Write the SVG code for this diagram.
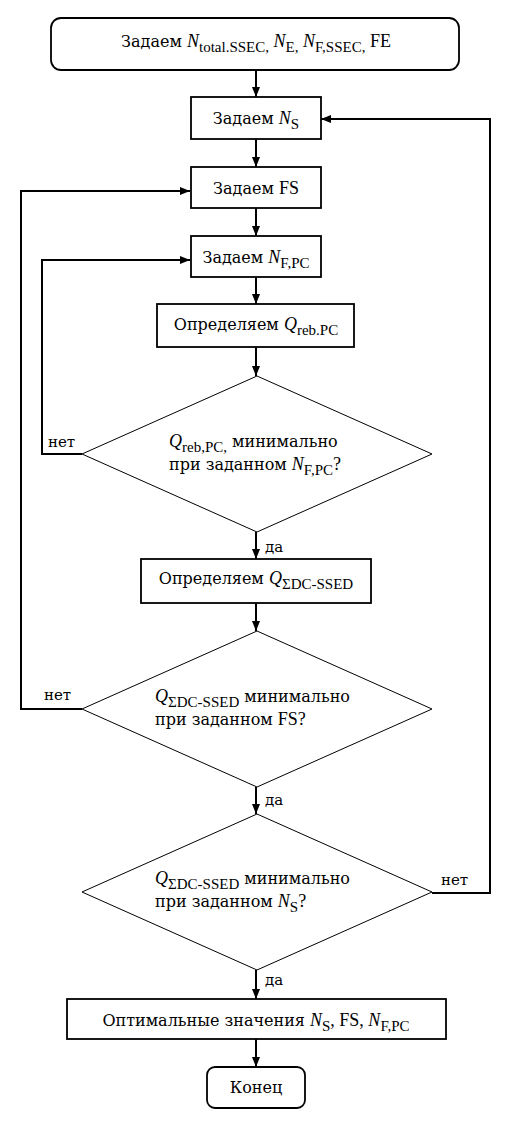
<svg xmlns="http://www.w3.org/2000/svg" width="522" height="1125" viewBox="0 0 522 1125">
<style>
text{font-family:"Liberation Serif","Times New Roman",serif;font-size:18px;fill:#000}
.c{font-family:"DejaVu Serif",serif;font-size:16px}
.lbl{font-family:"DejaVu Serif",serif;font-size:15px}
.box{fill:#fff;stroke:#000;stroke-width:1.8}
.dia{fill:#fff;stroke:#000;stroke-width:1}
.con{fill:none;stroke:#000;stroke-width:2}
.i{font-style:italic}
.s{font-size:15px}
</style>
<defs>
<marker id="ah" viewBox="0 0 10 8" refX="10" refY="4" markerWidth="10" markerHeight="8" markerUnits="userSpaceOnUse" orient="auto">
<path d="M0,0 L10,4 L0,8 Z" fill="#000"/>
</marker>
</defs>
<g id="connectors">
<line class="con" x1="256" y1="70" x2="256" y2="97" marker-end="url(#ah)"/>
<line class="con" x1="256" y1="139" x2="256" y2="167" marker-end="url(#ah)"/>
<line class="con" x1="256" y1="208" x2="256" y2="236" marker-end="url(#ah)"/>
<line class="con" x1="256" y1="277" x2="256" y2="304" marker-end="url(#ah)"/>
<line class="con" x1="256" y1="347" x2="256" y2="376" marker-end="url(#ah)"/>
<line class="con" x1="256" y1="532" x2="256" y2="559" marker-end="url(#ah)"/>
<line class="con" x1="256" y1="603" x2="256" y2="631" marker-end="url(#ah)"/>
<line class="con" x1="256" y1="787" x2="256" y2="814" marker-end="url(#ah)"/>
<line class="con" x1="256" y1="970" x2="256" y2="999" marker-end="url(#ah)"/>
<line class="con" x1="256" y1="1039" x2="256" y2="1067" marker-end="url(#ah)"/>
<polyline class="con" points="82,454 42,454 42,260 190,260" marker-end="url(#ah)"/>
<polyline class="con" points="82,709 21,709 21,191 190,191" marker-end="url(#ah)"/>
<polyline class="con" points="432,893 490,893 490,119 321,119" marker-end="url(#ah)"/>
<text class="lbl" x="265" y="552">да</text>
<text class="lbl" x="265" y="805">да</text>
<text class="lbl" x="265" y="985">да</text>
<text class="lbl" x="48" y="447">нет</text>
<text class="lbl" x="44" y="700">нет</text>
<text class="lbl" x="441" y="885">нет</text>
</g>
<g id="start">
<rect class="box" x="51" y="18" width="408" height="52" rx="10"/>
<text x="256" y="47" text-anchor="middle"><tspan class="c">Задаем </tspan><tspan class="i">N</tspan><tspan class="s" dy="5">total.SSEC,</tspan><tspan dy="-5"> </tspan><tspan class="i">N</tspan><tspan class="s" dy="5">E,</tspan><tspan dy="-5"> </tspan><tspan class="i">N</tspan><tspan class="s" dy="5">F,SSEC,</tspan><tspan dy="-5"> FE</tspan></text>
</g>
<g id="setNS">
<rect class="box" x="191" y="97" width="130" height="42"/>
<text x="256" y="124" text-anchor="middle"><tspan class="c">Задаем </tspan><tspan class="i">N</tspan><tspan class="s" dy="5">S</tspan></text>
</g>
<g id="setFS">
<rect class="box" x="191" y="167" width="130" height="41"/>
<text x="256" y="194" text-anchor="middle"><tspan class="c">Задаем </tspan>FS</text>
</g>
<g id="setNFPC">
<rect class="box" x="191" y="236" width="130" height="41"/>
<text x="256" y="263" text-anchor="middle"><tspan class="c">Задаем </tspan><tspan class="i">N</tspan><tspan class="s" dy="5">F,PC</tspan></text>
</g>
<g id="detQreb">
<rect class="box" x="157" y="304" width="197" height="43"/>
<text x="256" y="330" text-anchor="middle"><tspan class="c">Определяем </tspan><tspan class="i">Q</tspan><tspan class="s" dy="5">reb.PC</tspan></text>
</g>
<g id="dec1">
<polygon class="dia" points="257,376 432,454 257,532 82,454"/>
<text x="169" y="447"><tspan class="i">Q</tspan><tspan class="s" dy="5">reb,PC,</tspan><tspan class="c" dy="-5"> минимально</tspan></text>
<text x="169" y="470"><tspan class="c">при заданном </tspan><tspan class="i">N</tspan><tspan class="s" dy="5">F,PC</tspan><tspan dy="-5">?</tspan></text>
</g>
<g id="detQsum">
<rect class="box" x="141" y="559" width="230" height="44"/>
<text x="256" y="584" text-anchor="middle"><tspan class="c">Определяем </tspan><tspan class="i">Q</tspan><tspan class="s" dy="5">ΣDC-SSED</tspan></text>
</g>
<g id="dec2">
<polygon class="dia" points="257,631 432,709 257,787 82,709"/>
<text x="155" y="702"><tspan class="i">Q</tspan><tspan class="s" dy="5">ΣDC-SSED</tspan><tspan class="c" dy="-5"> минимально</tspan></text>
<text x="155" y="725"><tspan class="c">при заданном </tspan>FS?</text>
</g>
<g id="dec3">
<polygon class="dia" points="257,814 432,892 257,970 82,892"/>
<text x="155" y="884"><tspan class="i">Q</tspan><tspan class="s" dy="5">ΣDC-SSED</tspan><tspan class="c" dy="-5"> минимально</tspan></text>
<text x="155" y="907"><tspan class="c">при заданном </tspan><tspan class="i">N</tspan><tspan class="s" dy="5">S</tspan><tspan dy="-5">?</tspan></text>
</g>
<g id="optimal">
<rect class="box" x="67" y="999" width="379" height="40"/>
<text x="256" y="1026" text-anchor="middle"><tspan class="c">Оптимальные значения </tspan><tspan class="i">N</tspan><tspan class="s" dy="5">S</tspan><tspan dy="-5">, FS, </tspan><tspan class="i">N</tspan><tspan class="s" dy="5">F,PC</tspan></text>
</g>
<g id="end">
<rect class="box" x="207" y="1067" width="98" height="41" rx="8"/>
<text class="c" x="256" y="1093" text-anchor="middle">Конец</text>
</g>
</svg>
